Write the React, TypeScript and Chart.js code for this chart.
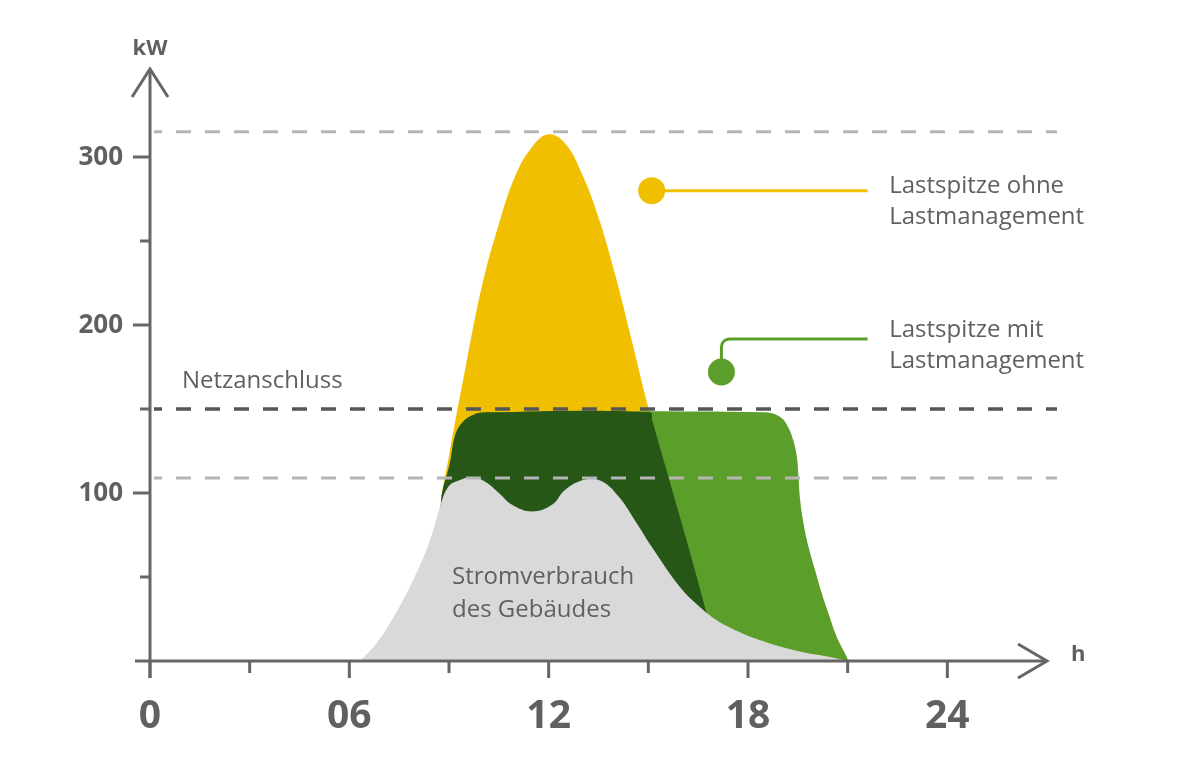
import React, { useEffect, useRef } from "react";
import { Chart, registerables } from "chart.js";

Chart.register(...registerables);

// ---- Data (hours, kW) ----
const buildingHours = [6.33, 6.82, 7.22, 7.62, 7.97, 8.28, 8.53, 8.73, 8.98, 9.33, 9.7, 10.1, 10.5, 10.9, 11.5, 12.1, 12.5, 13.1, 13.6, 14.1, 14.65, 15.1, 15.95, 16.5, 17.0, 17.5, 18.0, 18.5, 19.0, 19.5, 20.0, 20.5, 21.05];
const buildingKW = [0, 10.5, 22.4, 36.3, 50.2, 64.1, 78, 91.8, 103.7, 107.7, 109.5, 106.5, 100, 93, 89, 93, 102, 108, 107, 98, 82, 68, 44, 33, 25, 19.5, 15, 11.5, 8.5, 6, 4, 2.3, 0];

const withoutMgmtHours = [8.55, 8.75, 9.0, 9.5, 10.0, 10.5, 11.0, 11.5, 12.0, 12.5, 13.0, 13.5, 14.0, 14.5, 15.0, 15.5, 16.0, 16.5, 17.0, 17.2];
const withoutMgmtKW = [0, 92, 122, 175, 224, 260, 289, 306, 313.5, 308, 290, 264, 230, 191, 151, 117, 82, 47, 12, 0];

const withMgmtHours = [8.55, 8.76, 9.03, 9.18, 9.39, 9.72, 10.14, 18.45, 18.96, 19.2, 19.36, 19.47, 19.52, 19.57, 19.67, 19.82, 20.02, 20.22, 20.42, 20.67, 20.97, 21.02];
const withMgmtKW = [0, 95, 118, 134, 141.7, 146.4, 148, 148, 145.4, 139.5, 131.5, 121.6, 109.7, 95.8, 82, 68, 54, 40.3, 28.4, 14.5, 2.6, 0];

const shiftedHours = [8.55, 8.76, 9.03, 9.18, 9.39, 9.72, 10.14, 15.05, 15.12, 15.6, 16.15, 16.75, 17.15];
const shiftedKW = [0, 95, 118, 134, 141.7, 146.4, 148, 148, 143, 110, 72, 29, 0];

const gridConnectionKW = 150;
const guideKW = [315, 109];

const xTickHours = [0, 6, 12, 18, 24];
const xTickLabels = ["0", "06", "12", "18", "24"];
const xMinorHours = [3, 9, 15, 21];
const yTickKW = [100, 200, 300];
const yTickLabels = ["100", "200", "300"];
const yMinorKW = [50, 150, 250];

const toPoints = (xs: number[], ys: number[]) => xs.map((h, i) => ({ x: h, y: ys[i] }));

const TEXT = "#606060";
const AXIS = "#666666";
const YELLOW = "#f0c000";
const GREEN = "#5c9e2a";
const DARK_GREEN = "#265716";
const GRAY = "#d9d9d9";

const overlayPlugin = {
  id: "overlay",
  afterDatasetsDraw(chart: any) {
    const { ctx, chartArea } = chart;
    const xs = chart.scales.x;
    const ys = chart.scales.y;
    const px = (h: number) => xs.getPixelForValue(h);
    const py = (v: number) => ys.getPixelForValue(v);
    ctx.save();

    // dashed reference lines
    ctx.setLineDash([15, 14]);
    ctx.lineDashOffset = 7;
    ctx.lineCap = "butt";
    guideKW.forEach((v) => {
      ctx.strokeStyle = "#b5b5b5";
      ctx.lineWidth = 3;
      ctx.beginPath();
      ctx.moveTo(px(0.12), py(v));
      ctx.lineTo(px(27.3), py(v));
      ctx.stroke();
    });
    ctx.strokeStyle = "#555555";
    ctx.lineWidth = 3.5;
    ctx.beginPath();
    ctx.moveTo(px(0.12), py(gridConnectionKW));
    ctx.lineTo(px(27.3), py(gridConnectionKW));
    ctx.stroke();
    ctx.setLineDash([]);

    // axes
    const x0 = px(0);
    const y0 = py(0);
    ctx.strokeStyle = AXIS;
    ctx.lineWidth = 3;
    ctx.lineJoin = "miter";
    ctx.beginPath();
    ctx.moveTo(x0, y0 + 17);
    ctx.lineTo(x0, chartArea.top);
    ctx.moveTo(x0 - 15, y0);
    ctx.lineTo(chartArea.right, y0);
    ctx.stroke();
    // arrows
    ctx.beginPath();
    ctx.moveTo(x0 - 18, chartArea.top + 28);
    ctx.lineTo(x0, chartArea.top);
    ctx.lineTo(x0 + 18, chartArea.top + 28);
    ctx.moveTo(chartArea.right - 29, y0 - 17);
    ctx.lineTo(chartArea.right, y0);
    ctx.lineTo(chartArea.right - 29, y0 + 17);
    ctx.stroke();
    // ticks
    ctx.beginPath();
    xTickHours.forEach((h) => {
      ctx.moveTo(px(h), y0);
      ctx.lineTo(px(h), y0 + 17);
    });
    xMinorHours.forEach((h) => {
      ctx.moveTo(px(h), y0);
      ctx.lineTo(px(h), y0 + 12);
    });
    yTickKW.forEach((v) => {
      ctx.moveTo(x0 - 17, py(v));
      ctx.lineTo(x0, py(v));
    });
    yMinorKW.forEach((v) => {
      ctx.moveTo(x0 - 10, py(v));
      ctx.lineTo(x0, py(v));
    });
    ctx.stroke();

    // tick labels
    ctx.fillStyle = TEXT;
    ctx.font = 'bold 39px "Open Sans"';
    ctx.textAlign = "center";
    ctx.textBaseline = "alphabetic";
    xTickHours.forEach((h, i) => ctx.fillText(xTickLabels[i], px(h), y0 + 67));
    ctx.font = 'bold 26px "Open Sans"';
    ctx.textAlign = "right";
    ctx.textBaseline = "middle";
    yTickKW.forEach((v, i) => ctx.fillText(yTickLabels[i], x0 - 27, py(v) + 1));

    // axis titles
    ctx.textBaseline = "alphabetic";
    ctx.font = 'bold 22px "Open Sans"';
    ctx.textAlign = "center";
    ctx.fillText("kW", x0, chartArea.top - 14);
    ctx.textAlign = "left";
    ctx.fillText("h", chartArea.right + 24, y0);

    // annotation texts
    ctx.font = '24px "Open Sans"';
    ctx.fillText("Netzanschluss", px(0.96), py(162.5));
    ctx.fillText("Stromverbrauch", px(9.09), py(45.8));
    ctx.fillText("des Gebäudes", px(9.09), py(26.2));
    ctx.fillText("Lastspitze ohne", px(22.25), py(278.6));
    ctx.fillText("Lastmanagement", px(22.25), py(260));
    ctx.fillText("Lastspitze mit", px(22.25), py(192.9));
    ctx.fillText("Lastmanagement", px(22.25), py(174.4));

    // callouts
    const yx = px(15.1);
    const yy = py(280);
    ctx.strokeStyle = YELLOW;
    ctx.fillStyle = YELLOW;
    ctx.lineWidth = 3;
    ctx.beginPath();
    ctx.moveTo(yx, yy);
    ctx.lineTo(px(21.6), yy);
    ctx.stroke();
    ctx.beginPath();
    ctx.arc(yx, yy, 13.5, 0, Math.PI * 2);
    ctx.fill();

    const gx = px(17.2);
    const gy = py(172);
    const gh = py(191.7);
    const r = 8;
    ctx.strokeStyle = GREEN;
    ctx.fillStyle = GREEN;
    ctx.beginPath();
    ctx.moveTo(gx, gy);
    ctx.lineTo(gx, gh + r);
    ctx.arcTo(gx, gh, gx + r, gh, r);
    ctx.lineTo(px(21.6), gh);
    ctx.stroke();
    ctx.beginPath();
    ctx.arc(gx, gy, 13.5, 0, Math.PI * 2);
    ctx.fill();

    ctx.restore();
  },
};

export default function App() {
  const canvasRef = useRef<HTMLCanvasElement | null>(null);

  useEffect(() => {
    if (!canvasRef.current) return;
    const area = (label: string, pts: any[], color: string) => ({
      label,
      data: pts,
      backgroundColor: color,
      borderColor: "rgba(0,0,0,0)",
      borderWidth: 0,
      fill: "origin",
      pointRadius: 0,
      tension: 0.4,
    });
    const chart = new Chart(canvasRef.current, {
      type: "line",
      data: {
        datasets: [
          area("Stromverbrauch des Gebäudes", toPoints(buildingHours, buildingKW), GRAY),
          area("Verschobene Last", toPoints(shiftedHours, shiftedKW), DARK_GREEN),
          area("Lastspitze mit Lastmanagement", toPoints(withMgmtHours, withMgmtKW), GREEN),
          area("Lastspitze ohne Lastmanagement", toPoints(withoutMgmtHours, withoutMgmtKW), YELLOW),
        ],
      },
      options: {
        animation: false,
        responsive: false,
        maintainAspectRatio: false,
        layout: { padding: { left: 150, right: 153, top: 69, bottom: 104 } },
        scales: {
          x: { type: "linear", min: 0, max: 27, display: false },
          y: { type: "linear", min: 0, max: 352.4, display: false },
        },
        plugins: {
          legend: { display: false },
          tooltip: { enabled: false },
        },
        events: [],
      },
      plugins: [overlayPlugin],
    });
    return () => chart.destroy();
  }, []);

  return (
    <div style={{ position: "absolute", left: 0, top: 0, width: 1200, height: 765, background: "#fff" }}>
      <canvas ref={canvasRef} width={1200} height={765} style={{ width: 1200, height: 765 }} />
    </div>
  );
}
